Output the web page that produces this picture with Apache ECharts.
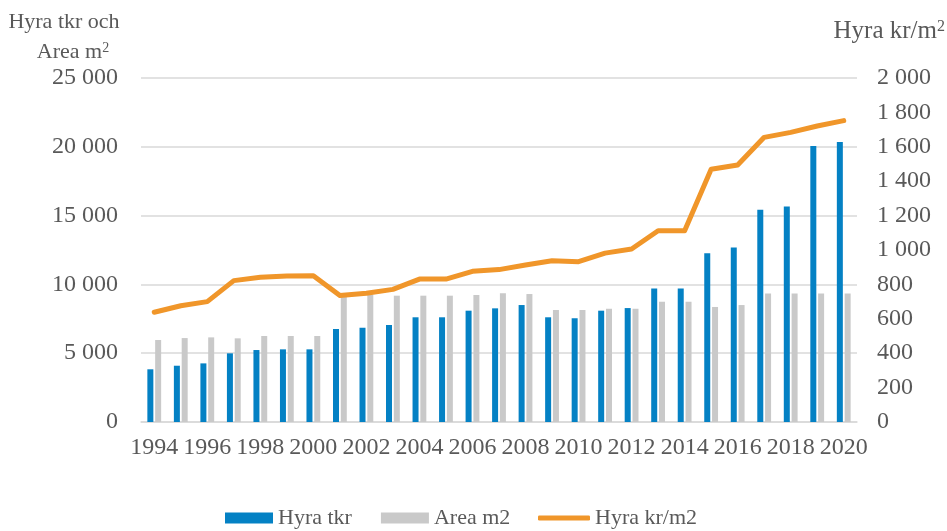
<!DOCTYPE html>
<html>
<head>
<meta charset="utf-8">
<script src="https://cdn.jsdelivr.net/npm/echarts@6/dist/echarts.min.js"></script>
<style>
  html, body { margin: 0; padding: 0; background: #fff; }
  #main { width: 947px; height: 531px; }
</style>
</head>
<body>
<div id="main"></div>
<script>
var years = ['1994', '1995', '1996', '1997', '1998', '1999', '2000', '2001', '2002',
    '2003', '2004', '2005', '2006', '2007', '2008', '2009', '2010', '2011', '2012',
    '2013', '2014', '2015', '2016', '2017', '2018', '2019', '2020'];

var hyraTkr = [3830, 4090, 4260, 4990, 5230, 5280, 5280, 6760, 6850, 7050, 7610, 7610,
    8090, 8260, 8500, 7610, 7540, 8090, 8280, 9710, 9710, 12260, 12690, 15430, 15670,
    20060, 20350];

var areaM2 = [5960, 6100, 6150, 6080, 6250, 6250, 6250, 9200, 9250, 9180, 9180, 9180,
    9230, 9350, 9300, 8140, 8140, 8230, 8230, 8740, 8740, 8360, 8500, 9330, 9330,
    9330, 9330];

var hyraKrM2 = [638, 676, 700, 822, 841, 849, 851, 735, 748, 771, 831, 831, 876, 886,
    913, 938, 932, 982, 1006, 1112, 1112, 1469, 1494, 1655, 1684, 1721, 1752];

var font = '"Liberation Serif", "Times New Roman", serif';
var textColor = '#595959';
var blue = '#0481c4', gray = '#c9c9c9', orange = '#f0962a';

function spaced(v) {
    return String(v).replace(/\B(?=(\d{3})+(?!\d))/g, ' ');
}

function supRich(size) {
    return { s: { fontSize: size, verticalAlign: 'top', padding: [0, 0, 9, 0], fontFamily: font, fill: textColor } };
}

var myChart = echarts.init(document.getElementById('main'));

var option = {
    animation: false,
    textStyle: { fontFamily: font },
    grid: { left: 141, right: 90, top: 78, bottom: 109 },
    legend: [
        {
            left: 225,
            top: 507,
            padding: 0,
            itemWidth: 48,
            itemHeight: 11,
            itemGap: 29,
            icon: 'rect',
            textStyle: { fontFamily: font, fontSize: 22, color: textColor },
            data: ['Hyra tkr', 'Area m2']
        },
        {
            left: 538,
            top: 507,
            padding: 0,
            itemWidth: 52,
            itemHeight: 5,
            icon: 'roundRect',
            itemStyle: { color: orange },
            textStyle: { fontFamily: font, fontSize: 22, color: textColor },
            data: ['Hyra kr/m2']
        }
    ],
    graphic: [
        {
            type: 'text', x: 64, y: 11,
            style: {
                text: 'Hyra tkr och',
                textAlign: 'center',
                font: '22px ' + font, fill: textColor
            }
        },
        {
            type: 'text', x: 73, y: 41,
            style: {
                text: 'Area m{s|2}',
                textAlign: 'center',
                font: '22px ' + font, fill: textColor,
                rich: supRich(14)
            }
        },
        {
            type: 'text', right: 2, top: 19,
            style: {
                text: 'Hyra kr/m{s|2}',
                font: '25px ' + font, fill: textColor,
                rich: supRich(16)
            }
        }
    ],
    xAxis: {
        type: 'category',
        data: years,
        axisTick: { show: false },
        axisLine: { lineStyle: { color: '#d9d9d9', width: 1.5 } },
        axisLabel: {
            interval: 1,
            margin: 14,
            fontSize: 24,
            color: textColor,
            fontFamily: font
        }
    },
    yAxis: [
        {
            type: 'value',
            min: 0, max: 25000, interval: 5000,
            axisLine: { show: false },
            axisTick: { show: false },
            splitLine: { lineStyle: { color: '#d9d9d9', width: 1.5 } },
            axisLabel: {
                margin: 23,
                fontSize: 24,
                color: textColor,
                fontFamily: font,
                formatter: spaced
            }
        },
        {
            type: 'value',
            min: 0, max: 2000, interval: 200,
            axisLine: { show: false },
            axisTick: { show: false },
            splitLine: { show: false },
            axisLabel: {
                margin: 20,
                fontSize: 24,
                color: textColor,
                fontFamily: font,
                formatter: spaced
            }
        }
    ],
    series: [
        {
            name: 'Hyra tkr',
            type: 'bar',
            data: hyraTkr,
            barWidth: 6,
            barGap: '30%',
            itemStyle: { color: blue }
        },
        {
            name: 'Area m2',
            type: 'bar',
            data: areaM2,
            barWidth: 6,
            itemStyle: { color: gray }
        },
        {
            name: 'Hyra kr/m2',
            type: 'line',
            yAxisIndex: 1,
            data: hyraKrM2,
            symbol: 'none',
            lineStyle: { color: orange, width: 5, cap: 'round', join: 'round' },
            itemStyle: { color: orange }
        }
    ]
};

myChart.setOption(option);
</script>
</body>
</html>
